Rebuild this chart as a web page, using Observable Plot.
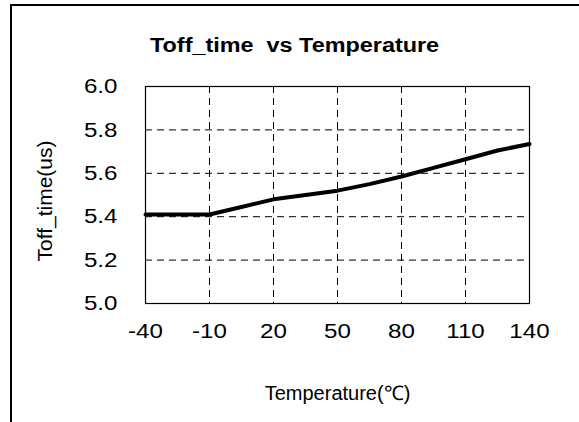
<!DOCTYPE html>
<html>
<head>
<meta charset="utf-8">
<script src="https://cdn.jsdelivr.net/npm/d3@7"></script>
<script src="https://cdn.jsdelivr.net/npm/@observablehq/plot@0.6"></script>
<style>
  html, body { margin: 0; padding: 0; background: #fff; }
  body { width: 579px; height: 422px; position: relative; overflow: hidden; font-family: "Liberation Sans", Arial, sans-serif; }
  #frame { position: absolute; left: 10px; top: 4px; width: 580px; height: 430px; border-top: 2px solid #000; border-left: 2px solid #000; box-sizing: border-box; }
  #title { position: absolute; left: 10px; width: 569px; top: 34px; text-align: center; }
  #title span { display: inline-block; font-weight: bold; font-size: 20px; color: #000; transform: scaleX(1.17); transform-origin: center; white-space: pre; }
  #chart { position: absolute; left: 0; top: 50px; }
</style>
</head>
<body>
<div id="frame"></div>
<div id="title"><span>Toff_time  vs Temperature</span></div>
<div id="chart"></div>
<script>
const temperature = [-40, -25, -10, 5, 20, 35, 50, 65, 80, 95, 110, 125, 140];
const toffTime    = [5.41, 5.41, 5.41, 5.445, 5.48, 5.50, 5.52, 5.55, 5.585, 5.625, 5.665, 5.705, 5.735];
const xTicks = [-40, -10, 20, 50, 80, 110, 140];
const yTicks = [5.0, 5.2, 5.4, 5.6, 5.8, 6.0];
const xLabel = "Temperature(℃)";
const yLabel = "Toff_time(us)";

const data = temperature.map((t, i) => ({t, v: toffTime[i]}));

const chart = Plot.plot({
  width: 579,
  height: 372,
  marginLeft: 145,
  marginRight: 50,
  marginTop: 36,
  marginBottom: 119,
  style: {fontFamily: '"Liberation Sans", Arial, sans-serif', fontSize: "19px", color: "#000", background: "transparent"},
  x: {domain: [-40, 140]},
  y: {domain: [5.0, 6.0]},
  marks: [
    Plot.gridX(xTicks.slice(1, -1), {stroke: "#000", strokeOpacity: 1, strokeWidth: 1, strokeDasharray: "7,5"}),
    Plot.gridY(yTicks.slice(1, -1), {stroke: "#000", strokeOpacity: 1, strokeWidth: 1, strokeDasharray: "7,5"}),
    Plot.frame({stroke: "#000", strokeWidth: 1.2}),
    Plot.axisX({ticks: xTicks, tickSize: 0, tickPadding: 20, tickFormat: d => String(d), fontSize: 21,
      label: null}),
    Plot.axisX({ticks: [], tickSize: 0, fontSize: 20,
      label: xLabel, labelAnchor: "center", labelArrow: "none", labelOffset: 96}),
    Plot.axisY({ticks: yTicks, tickSize: 0, tickPadding: 28, tickFormat: d => d.toFixed(1), fontSize: 21,
      label: null}),
    Plot.text([yLabel], {frameAnchor: "left", rotate: -90, dx: -100, dy: 6, fontSize: 21, fill: "#000",
      textAnchor: "middle", lineAnchor: "middle"}),
    Plot.line(data, {x: "t", y: "v", stroke: "#000", strokeWidth: 4, curve: "linear"})
  ]
});
// widen tick label glyphs horizontally, keeping their anchor points
chart.querySelectorAll('g[aria-label$="tick label"] text').forEach(t => {
  const tr = t.getAttribute("transform");
  if (tr && tr.includes("translate")) t.setAttribute("transform", tr + " scale(1.15,1)");
});
document.getElementById("chart").appendChild(chart);
</script>
</body>
</html>
